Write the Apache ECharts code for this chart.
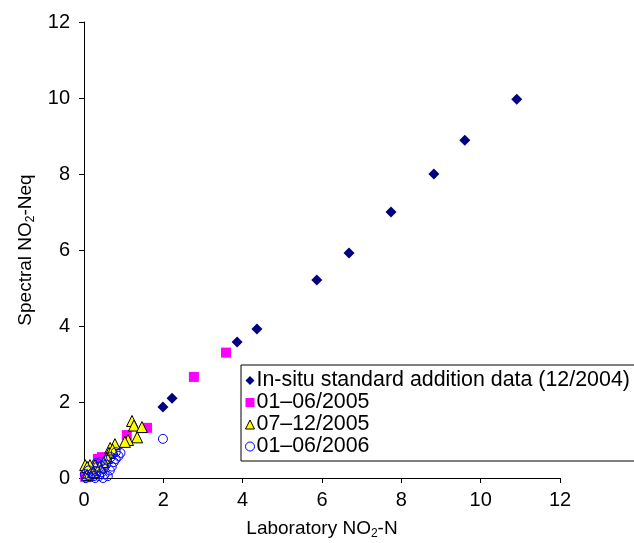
<!DOCTYPE html>
<html>
<head>
<meta charset="utf-8">
<script src="https://cdn.jsdelivr.net/npm/echarts@6/dist/echarts.min.js"></script>
<style>
html,body{margin:0;padding:0;background:#fff;}
#chart{width:634px;height:543px;}
</style>
</head>
<body>
<div id="chart"></div>
<script>
// Tick values
const xTicks = [0, 2, 4, 6, 8, 10, 12];
const yTicks = [0, 2, 4, 6, 8, 10, 12];

// Series names
const seriesNames = [
  'In-situ standard addition data (12/2004)',
  '01\u201306/2005',
  '07\u201312/2005',
  '01\u201306/2006'
];

// In-situ standard addition data (12/2004): [Laboratory, Spectral]
const insitu = [
  [1.99, 1.87], [2.22, 2.10], [3.86, 3.58], [4.36, 3.92], [5.87, 5.21],
  [6.68, 5.92], [7.74, 7.00], [8.82, 8.00], [9.60, 8.89], [10.91, 9.97]
];

// 01-06/2005
const s2005a = [
  [2.77, 2.66], [3.58, 3.30], [1.59, 1.32], [1.08, 1.13], [0.45, 0.55],
  [0.35, 0.50], [0.10, 0.15], [0.03, 0.03]
];

// 07-12/2005
const s2005b = [
  [1.21, 1.50], [1.26, 1.38], [1.46, 1.34], [1.34, 1.07], [1.11, 1.00],
  [1.03, 0.95], [0.78, 0.89], [0.66, 0.79], [0.63, 0.66], [0.58, 0.53],
  [0.28, 0.34], [0.15, 0.34], [0.03, 0.34], [0.08, 0.29], [0.08, 0.08],
  [0.23, 0.16], [0.50, 0.42], [0.72, 0.75], [0.40, 0.30]
];

// 01-06/2006
const s2006 = [
  [1.99, 1.03], [0.92, 0.66], [0.87, 0.58], [0.80, 0.50], [0.75, 0.42],
  [0.70, 0.30], [0.65, 0.20], [0.60, 0.05], [0.55, 0.35], [0.50, 0.25],
  [0.45, 0.15], [0.42, 0.42], [0.38, 0.05], [0.35, 0.30], [0.30, 0.18],
  [0.25, 0.05], [0.20, 0.12], [0.15, 0.02], [0.10, 0.08], [0.05, 0.00],
  [0.02, 0.10], [0.48, 0.00], [0.58, 0.48], [0.32, 0.40], [0.68, 0.55],
  [0.12, 0.20], [0.80, 0.68], [0.52, 0.10], [0.28, 0.00]
];

const FONT = 'Liberation Sans, Arial, sans-serif';
const chart = echarts.init(document.getElementById('chart'), null, {renderer: 'canvas'});

const axisCommon = {
  splitLine: {show: false},
  axisLine: {show: true, onZero: false, lineStyle: {color: '#000', width: 1}},
  axisTick: {show: true, inside: false, length: 5, lineStyle: {color: '#000'}},
  nameLocation: 'middle'
};
const rich = {
  a: {fontSize: 19, fontFamily: FONT, color: '#000'},
  s: {fontSize: 12, fontFamily: FONT, color: '#000', padding: [10, 0, 0, 0]}
};

chart.setOption({
  animation: false,
  backgroundColor: '#fff',
  grid: {left: 84, right: 74, top: 22, bottom: 65, containLabel: false, outerBoundsMode: 'none'},
  xAxis: Object.assign({}, axisCommon, {
    type: 'value',
    min: xTicks[0], max: xTicks[xTicks.length - 1], interval: xTicks[1] - xTicks[0],
    axisLabel: {color: '#000', fontSize: 20, fontFamily: FONT, margin: 12},
    name: '{a|Laboratory NO}{s|2}{a|-N}',
    nameGap: 40,
    nameTextStyle: {rich: rich}
  }),
  yAxis: Object.assign({}, axisCommon, {
    type: 'value',
    min: yTicks[0], max: yTicks[yTicks.length - 1], interval: yTicks[1] - yTicks[0],
    axisLabel: {color: '#000', fontSize: 20, fontFamily: FONT, margin: 14},
    name: '{a|Spectral NO}{s|2}{a|-Neq}',
    nameRotate: 90,
    nameGap: 47,
    nameTextStyle: {rich: rich}
  }),
  legend: {
    orient: 'vertical',
    left: 241, top: 365,
    backgroundColor: '#fff',
    borderColor: '#000', borderWidth: 1, borderRadius: 0,
    padding: [5, 20, 4, 4],
    itemGap: 1,
    itemWidth: 9, itemHeight: 9,
    textStyle: {fontSize: 21.4, lineHeight: 21, fontFamily: FONT, color: '#000', padding: [0, 0, 0, -3]},
    data: [
      {name: seriesNames[0], icon: 'diamond', itemStyle: {color: '#000080'}},
      {name: seriesNames[1], icon: 'rect', itemStyle: {color: '#ff00ff'}},
      {name: seriesNames[2], icon: 'triangle', itemStyle: {color: '#ffff00', borderColor: '#000', borderWidth: 1}},
      {name: seriesNames[3], icon: 'circle', itemStyle: {color: '#fff', borderColor: '#0000ff', borderWidth: 1}}
    ]
  },
  series: [
    {
      name: seriesNames[0], type: 'scatter', data: insitu,
      symbol: 'diamond', symbolSize: 11,
      itemStyle: {color: '#000080', opacity: 1}
    },
    {
      name: seriesNames[1], type: 'scatter', data: s2005a,
      symbol: 'rect', symbolSize: 10,
      itemStyle: {color: '#ff00ff', opacity: 1}
    },
    {
      name: seriesNames[2], type: 'scatter', data: s2005b,
      symbol: 'triangle', symbolSize: 11,
      itemStyle: {color: '#ffff00', borderColor: '#000', borderWidth: 1, opacity: 1}
    },
    {
      name: seriesNames[3], type: 'scatter', data: s2006,
      symbol: 'circle', symbolSize: 9,
      itemStyle: {color: 'rgba(255,255,255,0)', borderColor: '#0000ff', borderWidth: 1, opacity: 1}
    }
  ]
});
</script>
</body>
</html>
